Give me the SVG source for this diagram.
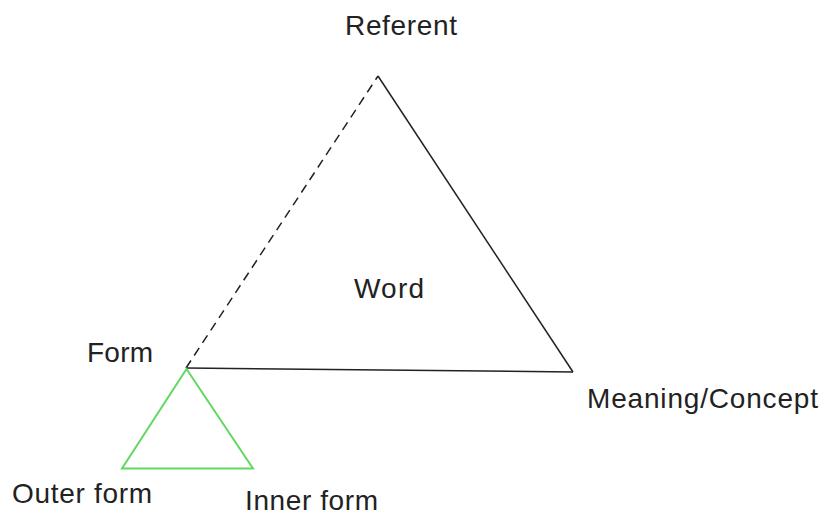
<svg xmlns="http://www.w3.org/2000/svg" width="821" height="515" viewBox="0 0 821 515">
<style>
text{font-family:"Liberation Sans",Arial,sans-serif;font-size:28px;fill:#222}
.l{stroke:#222;stroke-width:1.5;fill:none}
</style>
<rect width="821" height="515" fill="#fff"/>
<g id="connectors">
<line class="l" x1="186" y1="368" x2="378" y2="76" stroke-dasharray="9,6"/>
<line class="l" x1="378" y1="76" x2="573" y2="372"/>
<line class="l" x1="186" y1="368" x2="573" y2="372"/>
</g>
<g id="word"><text x="354" y="298" textLength="70">Word</text></g>
<g id="referent"><text x="345" y="35" textLength="112">Referent</text></g>
<g id="form"><text x="87" y="362" textLength="66">Form</text></g>
<g id="meaning"><text x="587" y="408" textLength="231">Meaning/Concept</text></g>
<g id="form-triangle"><polygon points="186.5,369 122,468.5 253,468.5" fill="none" stroke="#62d862" stroke-width="2"/></g>
<g id="outer"><text x="12" y="503" textLength="140">Outer form</text></g>
<g id="inner"><text x="245" y="510" textLength="133">Inner form</text></g>
</svg>
